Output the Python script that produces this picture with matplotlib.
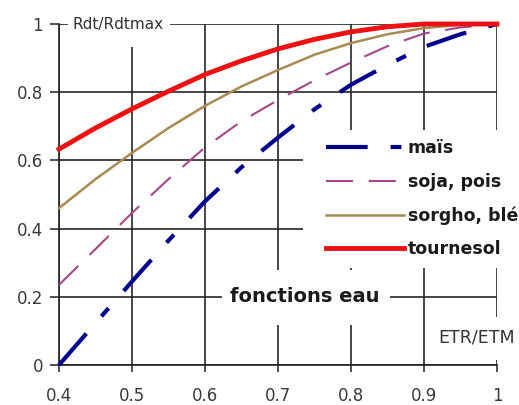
import matplotlib
matplotlib.use('Agg')
import matplotlib.pyplot as plt
from matplotlib.patches import Rectangle

# ETR/ETM ratio (x) and relative yield Rdt/Rdtmax per crop
etr_etm = [0.40, 0.45, 0.50, 0.55, 0.60, 0.65, 0.70, 0.75, 0.80, 0.85, 0.90, 0.95, 1.00]
mais = [0.0, 0.123, 0.245, 0.365, 0.48, 0.58, 0.667, 0.75, 0.822, 0.88, 0.933, 0.97, 1.0]
soja_pois = [0.235, 0.34, 0.446, 0.545, 0.638, 0.715, 0.777, 0.835, 0.887, 0.935, 0.972, 0.99, 1.0]
sorgho_ble = [0.46, 0.545, 0.622, 0.695, 0.76, 0.817, 0.865, 0.91, 0.944, 0.97, 0.988, 0.998, 1.0]
tournesol = [0.633, 0.695, 0.751, 0.803, 0.852, 0.892, 0.927, 0.955, 0.977, 0.992, 1.0, 1.0, 1.0]

xticks = [0.4, 0.5, 0.6, 0.7, 0.8, 0.9, 1]
xticklabels = ['0.4', '0.5', '0.6', '0.7', '0.8', '0.9', '1']
yticks = [0, 0.2, 0.4, 0.6, 0.8, 1]
yticklabels = ['0', '0.2', '0.4', '0.6', '0.8', '1']

W, H = 519, 405
fig = plt.figure(figsize=(W / 100, H / 100), dpi=100)
# axes box in pixels: x 59..497, y 24..365 (from top)
ax = fig.add_axes([59 / W, (H - 365) / H, 438 / W, 341 / H])

ax.plot(etr_etm, mais, color='#00008C', lw=3, dashes=(10, 5.5, 2.6, 5.5),
        label='maïs', clip_on=False, zorder=3)
ax.plot(etr_etm, soja_pois, color='#A4478A', lw=1.5, dashes=(13, 7.5),
        label='soja, pois', clip_on=False, zorder=3)
ax.plot(etr_etm, sorgho_ble, color='#A88A52', lw=1.8,
        label='sorgho, blé', clip_on=False, zorder=3)
ax.plot(etr_etm, tournesol, color='#EE1111', lw=3.5,
        label='tournesol', clip_on=False, zorder=3)

ax.set_xlim(0.4, 1)
ax.set_ylim(0, 1)
ax.set_xticks(xticks)
ax.set_xticklabels(xticklabels)
ax.set_yticks(yticks)
ax.set_yticklabels(yticklabels)
ax.tick_params(axis='y', length=6.5, width=1.1, color='#222222', pad=5,
               labelsize=12, labelcolor='#3a3a3a')
ax.tick_params(axis='x', length=5, width=1.1, color='#222222', pad=11,
               labelsize=12, labelcolor='#3a3a3a')
ax.grid(True, color='#262626', lw=1.2)
for s in ['top', 'right']:
    ax.spines[s].set_visible(False)
for s in ['left', 'bottom']:
    ax.spines[s].set_color('#222222')
    ax.spines[s].set_linewidth(1.2)


def px_box(x0, y0, x1, y1):
    # white masking box given in image pixels
    r = Rectangle(((x0 - 59) / 438, (365 - y1) / 341), (x1 - x0) / 438, (y1 - y0) / 341,
                  transform=ax.transAxes, facecolor='white', edgecolor='none',
                  clip_on=False, zorder=2.5)
    ax.add_patch(r)


px_box(68, 5, 170, 47)     # Rdt/Rdtmax label
px_box(303, 130, 519, 268)  # legend area
px_box(222, 270, 390, 325)  # fonctions eau
px_box(433, 317, 519, 360)  # ETR/ETM

ax.text((73 - 59) / 438, 1.0, 'Rdt/Rdtmax', transform=ax.transAxes, ha='left', va='center',
        fontsize=11, color='#333333', zorder=4)
ax.text((305 - 59) / 438, (365 - 297) / 341, 'fonctions eau', transform=ax.transAxes,
        ha='center', va='center', fontsize=14, fontweight='bold', color='#1a1a1a', zorder=4)
ax.text((438 - 59) / 438, (365 - 338) / 341, 'ETR/ETM', transform=ax.transAxes,
        ha='left', va='center', fontsize=12.5, color='#333333', zorder=4, clip_on=False)

leg = ax.legend(loc='upper left', bbox_to_anchor=((326 - 59) / 438, (365 - 139) / 341),
                frameon=False, borderpad=0, borderaxespad=0, handlelength=4.5,
                handletextpad=0.2, labelspacing=0.9,
                prop={'size': 12.5, 'weight': 'bold'})
for t in leg.get_texts():
    t.set_color('#1a1a1a')
leg.set_zorder(5)

fig.savefig('out.png', dpi=100)
